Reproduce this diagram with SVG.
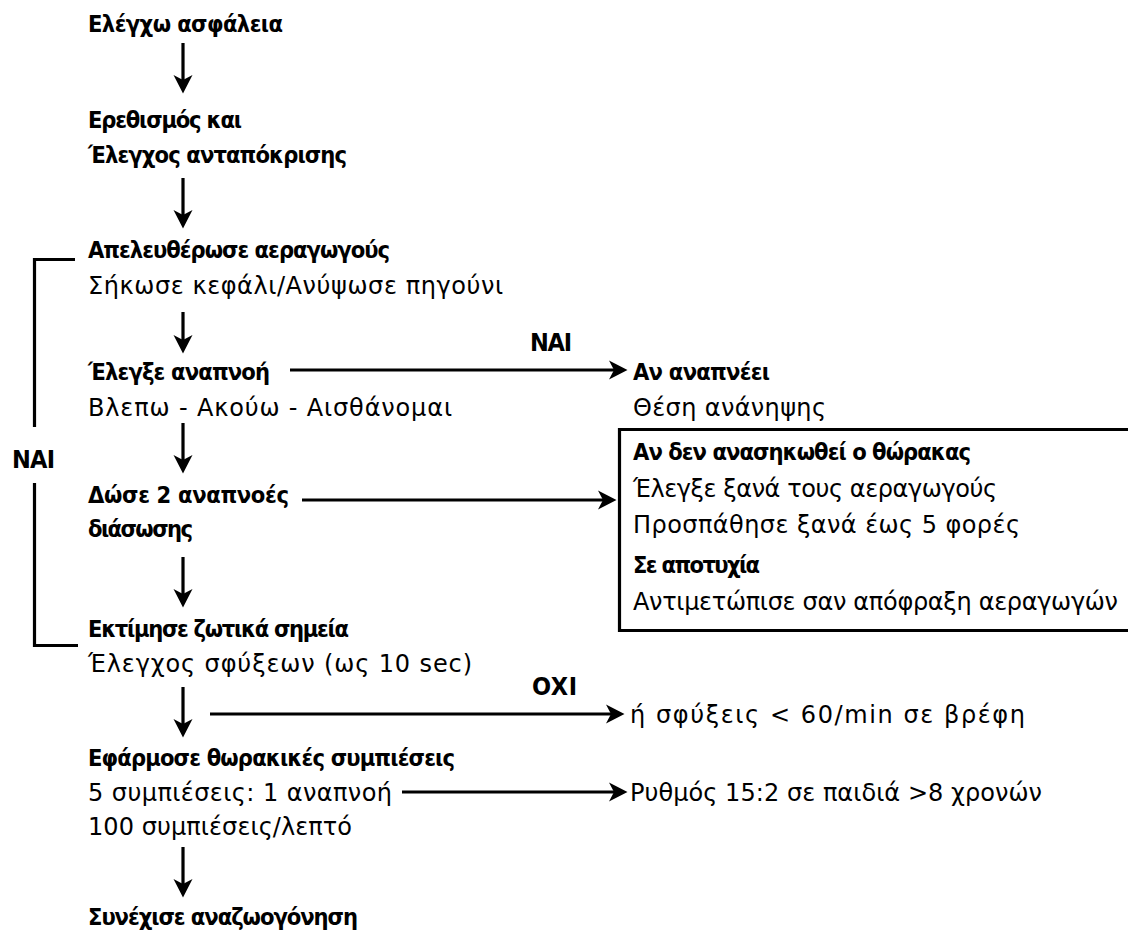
<svg xmlns="http://www.w3.org/2000/svg" width="1128" height="930" viewBox="0 0 1128 930">
<style>
text{font-family:"DejaVu Sans",sans-serif;font-size:24px;fill:#000}
.b{font-weight:bold;font-family:"DejaVu Sans Condensed","DejaVu Sans",sans-serif;font-stretch:condensed;font-size:23.5px}
.r{font-weight:normal;font-stretch:normal}
.lbl{font-weight:bold;font-family:"DejaVu Sans Condensed","DejaVu Sans",sans-serif;font-stretch:condensed;font-size:25px}
.ln{stroke:#000;stroke-width:3.2;fill:none}
.ar{marker-end:url(#ah)}
</style>
<defs>
<marker id="ah" markerUnits="userSpaceOnUse" markerWidth="20" markerHeight="20" viewBox="0 0 20 20" refX="8" refY="10" orient="auto">
<path d="M0,0.5 L18.5,10 L0,19.5 L5,10 Z" fill="#000"/>
</marker>
</defs>
<rect width="1128" height="930" fill="#fff"/>

<g id="n1"><text class="b" x="88" y="32" textLength="195" lengthAdjust="spacing">Ελέγχω ασφάλεια</text></g>
<g id="n2">
<text class="b" x="88" y="128" textLength="154" lengthAdjust="spacing">Ερεθισμός και</text>
<text class="b" x="88" y="163" textLength="259" lengthAdjust="spacing">Έλεγχος ανταπόκρισης</text>
</g>
<g id="n3">
<text class="b" x="88" y="258" textLength="302" lengthAdjust="spacing">Απελευθέρωσε αεραγωγούς</text>
<text class="r" x="88" y="294" textLength="415" lengthAdjust="spacing">Σήκωσε κεφάλι/Ανύψωσε πηγούνι</text>
</g>
<g id="n4">
<text class="b" x="88" y="380" textLength="182" lengthAdjust="spacing">Έλεγξε αναπνοή</text>
<text class="r" x="88" y="416" textLength="364" lengthAdjust="spacing">Βλεπω - Ακούω - Αισθάνομαι</text>
</g>
<g id="n5">
<text class="b" x="633" y="380" textLength="137" lengthAdjust="spacing">Αν αναπνέει</text>
<text class="r" x="633" y="416" textLength="193" lengthAdjust="spacing">Θέση ανάνηψης</text>
</g>
<g id="n6">
<text class="b" x="88" y="503" textLength="201" lengthAdjust="spacing">Δώσε 2 αναπνοές</text>
<text class="b" x="88" y="537" textLength="105" lengthAdjust="spacing">διάσωσης</text>
</g>
<g id="n7">
<path class="ln" d="M1130,429.5 H619.5 V630.5 H1130" stroke-width="2.5"/>
<text class="b" x="633" y="460" textLength="338" lengthAdjust="spacing">Αν δεν ανασηκωθεί ο θώρακας</text>
<text class="r" x="633" y="497" textLength="364" lengthAdjust="spacing">Έλεγξε ξανά τους αεραγωγούς</text>
<text class="r" x="633" y="533" textLength="387" lengthAdjust="spacing">Προσπάθησε ξανά έως 5 φορές</text>
<text class="b" x="633" y="573" textLength="127" lengthAdjust="spacing">Σε αποτυχία</text>
<text class="r" x="633" y="610" textLength="485" lengthAdjust="spacing">Αντιμετώπισε σαν απόφραξη αεραγωγών</text>
</g>
<g id="n8">
<text class="b" x="88" y="637" textLength="261" lengthAdjust="spacing">Εκτίμησε ζωτικά σημεία</text>
<text class="r" x="88" y="672" textLength="384" lengthAdjust="spacing">Έλεγχος σφύξεων (ως 10 sec)</text>
</g>
<g id="n9">
<text class="r" x="630" y="723" textLength="395" lengthAdjust="spacing">ή σφύξεις &lt; 60/min σε βρέφη</text>
</g>
<g id="n10">
<text class="b" x="88" y="766" textLength="367" lengthAdjust="spacing">Εφάρμοσε θωρακικές συμπιέσεις</text>
<text class="r" x="88" y="801" textLength="304" lengthAdjust="spacing">5 συμπιέσεις: 1 αναπνοή</text>
<text class="r" x="88" y="835" textLength="264" lengthAdjust="spacing">100 συμπιέσεις/λεπτό</text>
</g>
<g id="n11">
<text class="r" x="630" y="801" textLength="412" lengthAdjust="spacing">Ρυθμός 15:2 σε παιδιά &gt;8 χρονών</text>
</g>
<g id="n12">
<text class="b" x="88" y="925" textLength="270" lengthAdjust="spacing">Συνέχισε αναζωογόνηση</text>
</g>

<g id="connectors">
<path class="ln ar" d="M183,43 V83"/>
<path class="ln ar" d="M183,178 V218"/>
<path class="ln ar" d="M183,312 V343"/>
<path class="ln ar" d="M183,423 V463"/>
<path class="ln ar" d="M183,557 V597"/>
<path class="ln ar" d="M183,687 V727"/>
<path class="ln ar" d="M183,847 V887"/>
<path class="ln ar" d="M290,370 H617"/>
<path class="ln ar" d="M302,500 H606"/>
<path class="ln ar" d="M210,714 H614"/>
<path class="ln ar" d="M402,792 H617"/>
<path class="ln" d="M75,259.5 H34.5 V427"/>
<path class="ln" d="M34.5,483 V645.5 H78"/>
<text class="lbl" x="530" y="351" textLength="42" lengthAdjust="spacing">NAI</text>
<text class="lbl" x="12" y="468" textLength="43" lengthAdjust="spacing">NAI</text>
<text class="lbl" x="532" y="695" textLength="45" lengthAdjust="spacing">OXI</text>
</g>
</svg>
